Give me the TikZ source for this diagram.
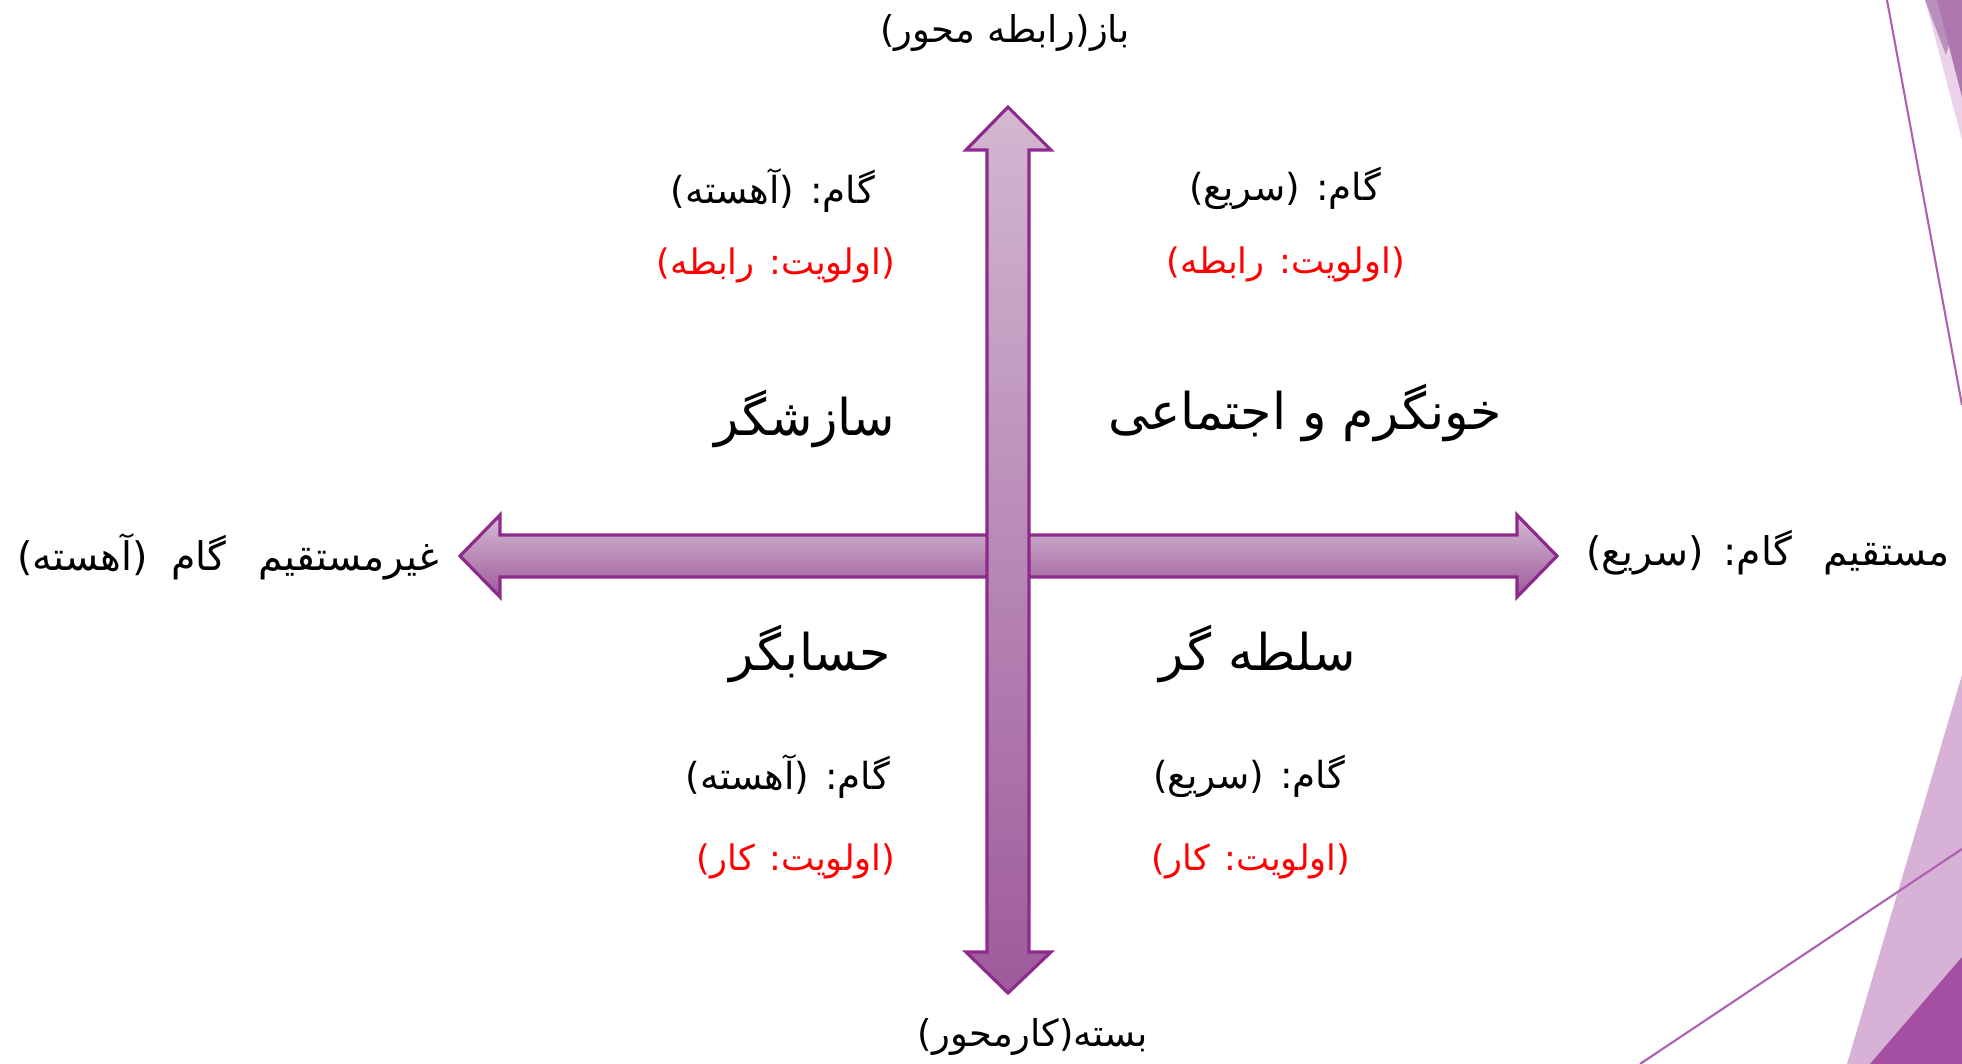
\documentclass[tikz,border=0pt]{standalone}
\usepackage{xcolor}
\usepackage{tikz}
\usepackage{fontspec}
\newfontfamily\farsi[Script=Arabic]{DejaVu Sans}
\TeXXeTstate=1
\definecolor{facetdark}{HTML}{A44FA2}
\definecolor{facetmid}{HTML}{AE77AE}
\definecolor{facetsoft}{HTML}{BB8FBB}
\definecolor{facetlight}{HTML}{D7B1D6}
\definecolor{facetpale}{HTML}{EAD3EA}
\definecolor{facetline}{HTML}{B060B0}
\definecolor{arrowline}{HTML}{8E2A8C}
\definecolor{arrowtop}{HTML}{D2B8D1}
\definecolor{arrowbottom}{HTML}{9E5A9B}
\definecolor{prioredd}{HTML}{FF0000}
\usetikzlibrary{positioning}

\begin{document}
\begin{tikzpicture}[
    x=0.01cm, y=-0.01cm,
    every node/.style={font=\farsi, inner sep=2pt},
    gamtxt/.style={font=\farsi\fontsize{10.6}{12}\selectfont},
    priotxt/.style={font=\farsi\fontsize{10}{12}\selectfont, text=prioredd},
    typetxt/.style={font=\farsi\fontsize{14.4}{18}\selectfont},
    axislbl/.style={font=\farsi\fontsize{10.5}{12}\selectfont},
    sidelbl/.style={font=\farsi\fontsize{11.2}{13}\selectfont},
    axisarrow/.style={draw=arrowline, line width=0.9pt, line join=miter},
]
\useasboundingbox (0,0) rectangle (1962,1064);

% slide theme corners
\fill[facetpale] (1925,0) -- (1962,0) -- (1962,140) -- cycle;
\fill[facetsoft] (1925,0) -- (1962,0) -- (1946,55) -- cycle;
\fill[facetmid] (1937,0) -- (1962,0) -- (1962,97) -- cycle;
\draw[facetline, line width=0.6pt] (1887,0) -- (1962,405);
\fill[facetlight] (1847,1064) -- (1962,675) -- (1962,1064) -- cycle;
\fill[facetdark] (1870,1064) -- (1962,957) -- (1962,1064) -- cycle;
\draw[facetline, line width=0.6pt] (1640,1064) -- (1962,849);

% horizontal axis: slow <-> fast
\path[axisarrow, top color=arrowtop!95!white, bottom color=arrowbottom]
    (460,556) -- (500,515) -- (500,535) -- (1517,535) -- (1517,515)
    -- (1557,556) -- (1517,597) -- (1517,577) -- (500,577) -- (500,597) -- cycle;

% vertical axis: open <-> closed
\path[axisarrow, top color=arrowtop, bottom color=arrowbottom]
    (1008,107) -- (1051,150) -- (1029,150) -- (1029,952) -- (1051,952)
    -- (1008,993) -- (966,952) -- (987,952) -- (987,150) -- (966,150) -- cycle;

% axis ends
\node[axislbl] (open) at (1005,33) {\beginR باز(رابطه محور)\endR};
\node[axislbl] (closed) at (1033,1037) {\beginR بسته(کارمحور)\endR};
\node[sidelbl] (indirect) at (228,557) {\beginR غیرمستقیم\hspace{0.8em}گام\hspace{0.6em}(آهسته)\endR};
\node[sidelbl] (direct) at (1768,553) {\beginR مستقیم\hspace{0.8em}گام:\hspace{0.5em}(سریع)\endR};

% top left
\node[gamtxt] (tlgam) at (773,190) {\beginR گام: (آهسته)\endR};
\node[priotxt] (tlprio) at (776,265) {\beginR (اولویت: رابطه)\endR};
\node[typetxt] (tltype) at (805,419) {\beginR سازشگر\endR};

% top right
\node[gamtxt] (trgam) at (1285,188) {\beginR گام: (سریع)\endR};
\node[priotxt] (trprio) at (1286,264) {\beginR (اولویت: رابطه)\endR};
\node[typetxt] (trtype) at (1305,413) {\beginR خونگرم و اجتماعی\endR};

% bottom left
\node[typetxt] (bltype) at (810,654) {\beginR حسابگر\endR};
\node[gamtxt] (blgam) at (788,776) {\beginR گام: (آهسته)\endR};
\node[priotxt] (blprio) at (796,861) {\beginR (اولویت: کار)\endR};

% bottom right
\node[typetxt] (brtype) at (1258,654) {\beginR سلطه گر\endR};
\node[gamtxt] (brgam) at (1249,776) {\beginR گام: (سریع)\endR};
\node[priotxt] (brprio) at (1251,861) {\beginR (اولویت: کار)\endR};

\end{tikzpicture}
\end{document}
